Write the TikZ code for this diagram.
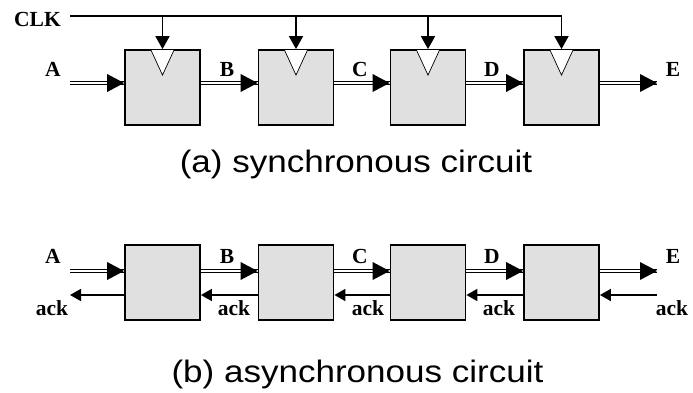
\documentclass[tikz,border=0pt]{standalone}
\usepackage{fontspec}
\setmainfont{Liberation Serif}
\newfontfamily\capfont[FakeStretch=1.13]{Liberation Sans}
\usetikzlibrary{arrows.meta,decorations.markings}
\begin{document}
\begin{tikzpicture}[x=1pt,y=-1pt,
  blk/.style={draw=black, line width=1.8pt, fill=black!12, minimum width=75pt, minimum height=75pt, inner sep=0pt},
  lbl/.style={font=\fontsize{21.5}{21.5}\selectfont\bfseries, anchor=base, inner sep=0pt},
  captxt/.style={font=\capfont\fontsize{31}{31}\selectfont, anchor=base, inner sep=0pt},
  wire/.style={line width=1.8pt},
  clkarr/.style={wire, -{Triangle[length=13pt,width=14pt]}},
  ackarr/.style={wire, -{Triangle[length=11pt,width=12pt]}},
  data/.style={draw, double=white, line width=1pt, double distance=1.8pt, postaction={decorate},
    decoration={markings, mark=at position 1 with {\fill[black] (0pt,0pt) -- (-17pt,9pt) -- (-17pt,-9pt) -- cycle;}}},
  clktri/.style={fill=white, draw=black, line width=0.7pt},
]
\useasboundingbox (0,0) rectangle (693,393);

% ---------- (a) synchronous ----------
\node[blk] (t1) at (162.5,87.5) {};
\node[blk] (t2) at (296,87.5) {};
\node[blk] (t3) at (428,87.5) {};
\node[blk] (t4) at (561.5,87.5) {};
\foreach \n in {t1,t2,t3,t4}{
  \path[clktri] ([xshift=-11.5pt,yshift=-1pt]\n.north) -- ([yshift=-26pt]\n.north) -- ([xshift=11.5pt,yshift=-1pt]\n.north);
}
\coordinate (clk0) at (70,16);
\draw[clkarr] (clk0) -- (t4.north |- clk0) -- (t4.north);
\foreach \n in {t1,t2,t3}{
  \draw[clkarr] (\n.north |- clk0) -- (\n.north);
}
\coordinate (tA) at (70,83);
\coordinate (tE) at (657,83);
\path[data] (tA) -- (t1.west |- tA);
\path[data] (t1.east |- tA) -- (t2.west |- tA);
\path[data] (t2.east |- tA) -- (t3.west |- tA);
\path[data] (t3.east |- tA) -- (t4.west |- tA);
\path[data] (t4.east |- tA) -- (tE);

\node[lbl] (lclk) at (37.5,27) {CLK};
\node[lbl] (la1) at (53,77) {A};
\node[lbl] (lb1) at (227,77) {B};
\node[lbl] (lc1) at (360,77) {C};
\node[lbl] (ld1) at (492,77) {D};
\node[lbl] (le1) at (673,77) {E};

\node[captxt] (capa) at (356,172) {(a) synchronous circuit};

% ---------- (b) asynchronous ----------
\node[blk] (b1) at (162.5,282.5) {};
\node[blk] (b2) at (296,282.5) {};
\node[blk] (b3) at (428,282.5) {};
\node[blk] (b4) at (561.5,282.5) {};

\coordinate (bA) at (70,271);
\coordinate (bE) at (657,271);
\path[data] (bA) -- (b1.west |- bA);
\path[data] (b1.east |- bA) -- (b2.west |- bA);
\path[data] (b2.east |- bA) -- (b3.west |- bA);
\path[data] (b3.east |- bA) -- (b4.west |- bA);
\path[data] (b4.east |- bA) -- (bE);

\coordinate (ackL) at (70,295);
\coordinate (ackR) at (657,295);
\draw[ackarr] (b1.west |- ackL) -- (ackL);
\draw[ackarr] (b2.west |- ackL) -- (b1.east |- ackL);
\draw[ackarr] (b3.west |- ackL) -- (b2.east |- ackL);
\draw[ackarr] (b4.west |- ackL) -- (b3.east |- ackL);
\draw[ackarr] (ackR) -- (b4.east |- ackR);

\node[lbl] (la2) at (53,263) {A};
\node[lbl] (lb2) at (227,263) {B};
\node[lbl] (lc2) at (360,263) {C};
\node[lbl] (ld2) at (492,263) {D};
\node[lbl] (le2) at (673,263) {E};
\node[lbl] (k1) at (52,315) {ack};
\node[lbl] (k2) at (234,315) {ack};
\node[lbl] (k3) at (368,315) {ack};
\node[lbl] (k4) at (499,315) {ack};
\node[lbl] (k5) at (672,315) {ack};

\node[captxt] (capb) at (357.5,382) {(b) asynchronous circuit};
\end{tikzpicture}
\end{document}
